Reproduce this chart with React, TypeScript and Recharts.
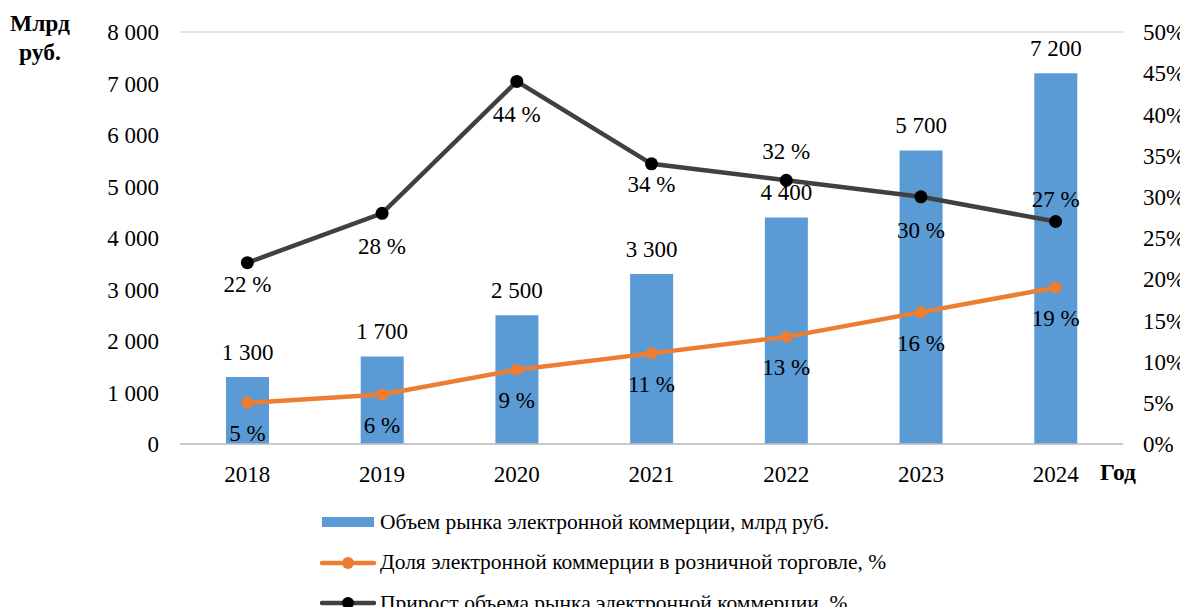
import React from 'react';
import { ComposedChart, Bar, Line, XAxis, YAxis, CartesianGrid, LabelList } from 'recharts';

const years = ['2018', '2019', '2020', '2021', '2022', '2023', '2024'];
const marketVolume = [1300, 1700, 2500, 3300, 4400, 5700, 7200];
const retailShare = [5, 6, 9, 11, 13, 16, 19];
const marketGrowth = [22, 28, 44, 34, 32, 30, 27];

const leftTicks = [0, 1000, 2000, 3000, 4000, 5000, 6000, 7000, 8000];
const rightTicks = [0, 5, 10, 15, 20, 25, 30, 35, 40, 45, 50];

// vertical shift of the growth labels relative to their point (Excel placed them by hand)
const growthLabelDy = [22, 33, 33, 21, -29, 34, -22];

const FONT = '"Liberation Serif", "Times New Roman", serif';
const BLUE = '#5B9BD5';
const ORANGE = '#ED7D31';
const DARK = '#404040';

const data = years.map((year, i) => ({
  year,
  volume: marketVolume[i],
  share: retailShare[i],
  growth: marketGrowth[i],
}));

const thousands = (v: number) => String(v).replace(/\B(?=(\d{3})+(?!\d))/g, ' ');

const legendItems = [
  { name: 'Объем рынка электронной коммерции, млрд руб.', kind: 'bar', color: BLUE },
  { name: 'Доля электронной коммерции в розничной торговле, %', kind: 'line', color: ORANGE },
  { name: 'Прирост объема рынка электронной коммерции, %', kind: 'line', color: DARK, dot: '#000' },
];

const ChartLegend = () => (
  <div style={{ position: 'absolute', left: 320, top: 502, fontFamily: FONT, fontSize: 21.5, color: '#000' }}>
    {legendItems.map((item) => (
      <div key={item.name} style={{ display: 'flex', alignItems: 'center', height: 40.5, whiteSpace: 'nowrap' }}>
        <svg width={56} height={16} style={{ marginRight: 4 }}>
          {item.kind === 'bar' ? (
            <rect x={2} y={3} width={52} height={10} fill={item.color} />
          ) : (
            <g>
              <line x1={2} y1={8} x2={54} y2={8} stroke={item.color} strokeWidth={4.5} strokeLinecap="round" />
              <circle cx={28} cy={8} r={6} fill={item.dot || item.color} />
            </g>
          )}
        </svg>
        <span>{item.name}</span>
      </div>
    ))}
  </div>
);

const makePercentLabel = (dys: number[] | number) => (props: any) => {
  const { x, y, value, index } = props;
  const dy = Array.isArray(dys) ? dys[index] : dys;
  return (
    <text x={x} y={y + dy} textAnchor="middle" dominantBaseline="central" fontFamily={FONT} fontSize={23} fill="#000">
      {`${value} %`}
    </text>
  );
};

const tickStyle = { fontFamily: FONT, fontSize: 23, fill: '#000' };

export default function App() {
  return (
    <div style={{ position: 'relative', width: 1188, height: 615, margin: -8, background: '#fff' }}>
      <ComposedChart
        width={1188}
        height={615}
        data={data}
        margin={{ top: 32, right: 5, bottom: 141, left: 120 }}
        barCategoryGap={0}
      >
        <CartesianGrid vertical={false} stroke="#d9d9d9" strokeWidth={1.5} />
        <XAxis
          dataKey="year"
          tick={tickStyle}
          tickLine={false}
          axisLine={{ stroke: '#bfbfbf', strokeWidth: 1.5 }}
          height={30}
          tickMargin={16}
        />
        <YAxis
          yAxisId="left"
          domain={[0, 8000]}
          ticks={leftTicks}
          tickFormatter={thousands}
          tick={tickStyle}
          axisLine={false}
          tickLine={false}
          tickSize={0}
          tickMargin={21}
          width={60}
          interval={0}
        />
        <YAxis
          yAxisId="right"
          orientation="right"
          domain={[0, 50]}
          ticks={rightTicks}
          tickFormatter={(v: number) => `${v}%`}
          tick={{ ...tickStyle, textAnchor: 'start' }}
          axisLine={false}
          tickLine={false}
          tickSize={0}
          tickMargin={20}
          width={60}
          interval={0}
        />
        <Bar yAxisId="left" dataKey="volume" fill={BLUE} barSize={43} isAnimationActive={false}>
          <LabelList
            dataKey="volume"
            position="top"
            offset={17}
            formatter={(v: any) => thousands(Number(v))}
            style={{ fontFamily: FONT, fontSize: 23, fill: '#000' }}
          />
        </Bar>
        <Line
          yAxisId="right"
          dataKey="share"
          stroke={ORANGE}
          strokeWidth={4.5}
          dot={{ r: 6, fill: ORANGE, stroke: ORANGE, strokeWidth: 0 }}
          activeDot={false}
          isAnimationActive={false}
        >
          <LabelList dataKey="share" content={makePercentLabel(31)} />
        </Line>
        <Line
          yAxisId="right"
          dataKey="growth"
          stroke={DARK}
          strokeWidth={4.5}
          dot={{ r: 6.5, fill: '#000', stroke: '#000', strokeWidth: 0 }}
          activeDot={false}
          isAnimationActive={false}
        >
          <LabelList dataKey="growth" content={makePercentLabel(growthLabelDy)} />
        </Line>
      </ComposedChart>
      <ChartLegend />
      <div
        style={{
          position: 'absolute',
          left: 10,
          top: 9,
          fontFamily: FONT,
          fontWeight: 'bold',
          fontSize: 23.5,
          lineHeight: '29px',
          textAlign: 'center',
        }}
      >
        Млрд
        <br />
        руб.
      </div>
      <div
        style={{
          position: 'absolute',
          left: 1100,
          top: 459,
          fontFamily: FONT,
          fontWeight: 'bold',
          fontSize: 23.5,
        }}
      >
        Год
      </div>
    </div>
  );
}
